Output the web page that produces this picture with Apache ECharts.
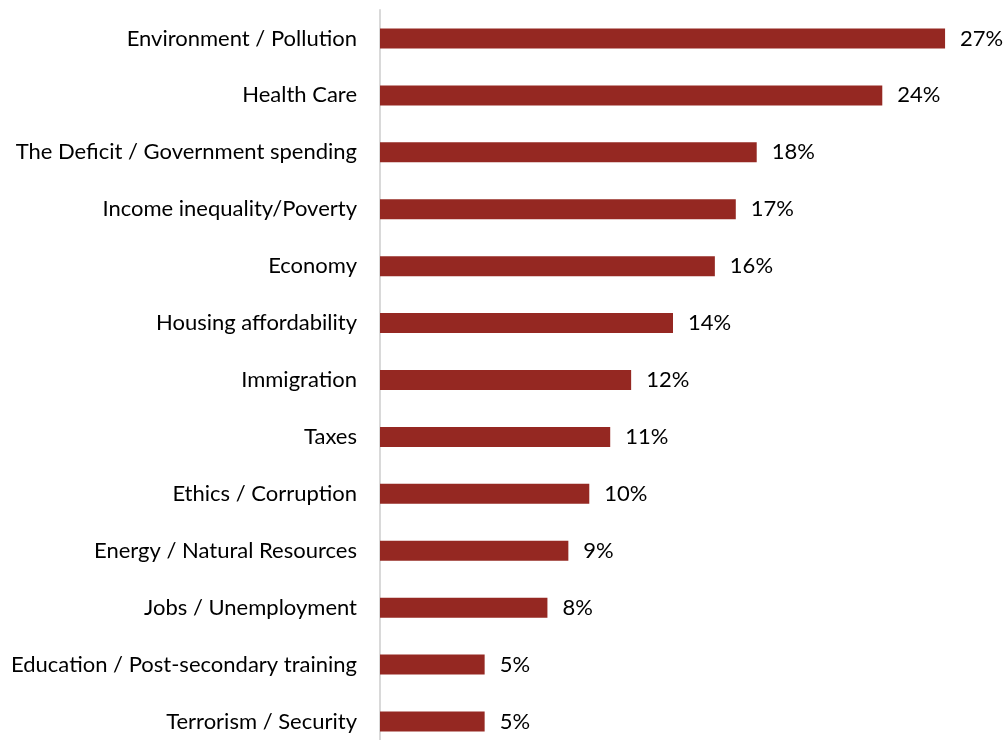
<!DOCTYPE html>
<html>
<head>
<meta charset="utf-8">
<script src="https://cdn.jsdelivr.net/npm/echarts@6/dist/echarts.min.js"></script>
<style>
  html, body { margin: 0; padding: 0; background: #fff; overflow: hidden; }
  #chart { width: 1005px; height: 760px; }
</style>
</head>
<body>
<div id="chart"></div>
<script>
// Top issues, share of respondents (%)
const categories = [
  'Environment / Pollution',
  'Health Care',
  'The Deficit / Government spending',
  'Income inequality/Poverty',
  'Economy',
  'Housing affordability',
  'Immigration',
  'Taxes',
  'Ethics / Corruption',
  'Energy / Natural Resources',
  'Jobs / Unemployment',
  'Education / Post-secondary training',
  'Terrorism / Security'
];
const values = [27, 24, 18, 17, 16, 14, 12, 11, 10, 9, 8, 5, 5];

const FONT = 'Lato, "Open Sans", sans-serif';

const chart = echarts.init(document.getElementById('chart'), null, { renderer: 'canvas' });
chart.setOption({
  animation: false,
  backgroundColor: '#ffffff',
  // the plot runs slightly past the visible bottom edge, so the last row sits low
  grid: { left: 380, top: 10, width: 586, height: 740 },
  xAxis: {
    type: 'value',
    min: 0,
    max: 28,
    show: false
  },
  yAxis: {
    type: 'category',
    inverse: true,
    data: categories,
    axisLine: { show: true, lineStyle: { color: '#d9d9d9', width: 2 } },
    axisTick: { show: false },
    axisLabel: {
      margin: 23,
      color: '#000000',
      fontFamily: FONT,
      fontSize: 22
    }
  },
  series: [{
    type: 'bar',
    data: values,
    barWidth: 20,
    itemStyle: { color: '#952822' },
    label: {
      show: true,
      position: 'right',
      distance: 15,
      formatter: '{c}%',
      color: '#000000',
      fontFamily: FONT,
      fontSize: 22
    }
  }]
});
</script>
</body>
</html>
